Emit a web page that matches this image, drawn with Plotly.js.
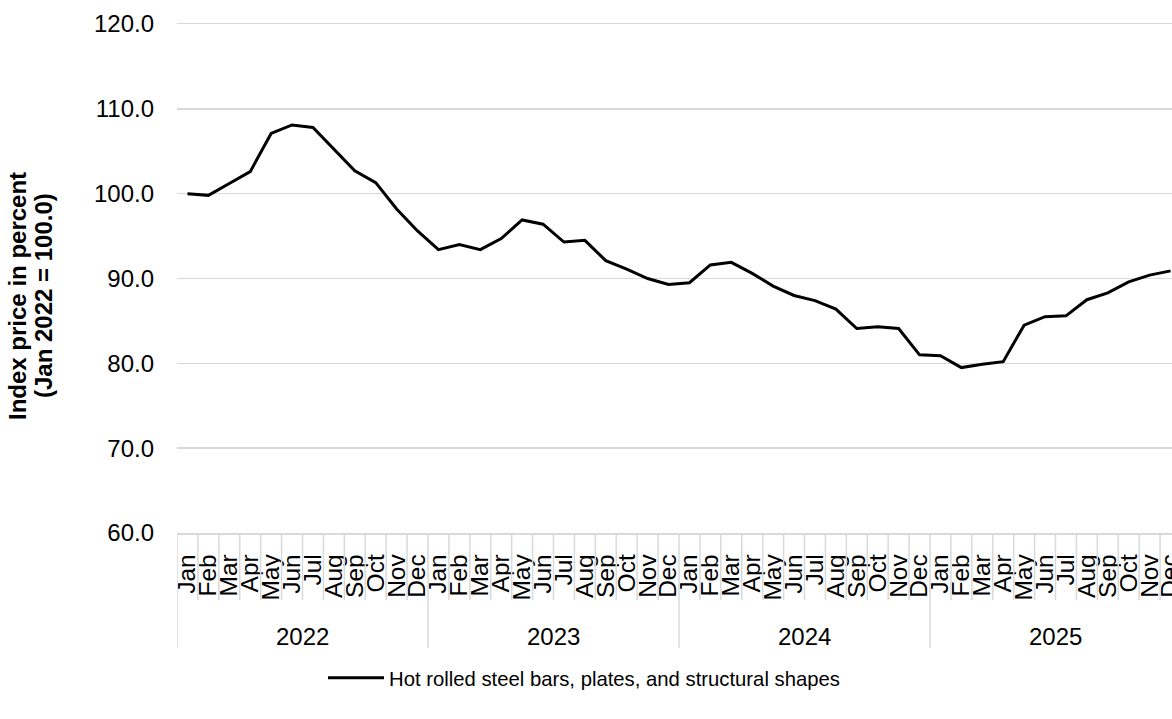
<!DOCTYPE html>
<html>
<head>
<meta charset="utf-8">
<script src="https://cdn.plot.ly/plotly-3.0.1.min.js"></script>
<style>
  html, body { margin: 0; padding: 0; overflow: hidden; background: #fff; }
  #chart { width: 1182px; height: 719px; }
</style>
</head>
<body>
<div id="chart"></div>
<script>
// Monthly index of hot rolled steel prices, Jan 2022 = 100.0
const years = ["2022", "2023", "2024", "2025"];
const months = ["Jan", "Feb", "Mar", "Apr", "May", "Jun", "Jul", "Aug", "Sep", "Oct", "Nov", "Dec"];

const index2022 = [100.0, 99.8, 101.2, 102.6, 107.1, 108.1, 107.8, 105.3, 102.7, 101.3, 98.2, 95.6];
const index2023 = [93.4, 94.0, 93.4, 94.7, 96.9, 96.4, 94.3, 94.5, 92.1, 91.1, 90.0, 89.3];
const index2024 = [89.5, 91.6, 91.9, 90.6, 89.1, 88.0, 87.4, 86.4, 84.1, 84.3, 84.1, 81.0];
const index2025 = [80.9, 79.5, 79.9, 80.2, 84.5, 85.5, 85.6, 87.5, 88.3, 89.6, 90.4, 90.9];

const seriesName = "Hot rolled steel bars, plates, and structural shapes";
const yTitleLines = ["Index price in percent", "(Jan 2022 = 100.0)"];

const yearlyValues = [index2022, index2023, index2024, index2025];

// one category per month, labelled with the month name only
const cats = [];
const vals = [];
const monthText = [];
years.forEach((yr, yi) => {
  months.forEach((m, mi) => {
    cats.push(m + " " + yr);
    monthText.push(m);
    vals.push(yearlyValues[yi][mi]);
  });
});

const FONT = "Liberation Sans, Arial, Helvetica, sans-serif";
const GRID = "#d9d9d9";

// plot area geometry in pixels (used for the separators and labels under the axis)
const plotTop = 24, plotBottom = 533, plotHeight = plotBottom - plotTop;
const plotLeft = 177, plotWidth = 1004;
const pyPaper = (px) => (plotBottom - px) / plotHeight;
const pxPaper = (px) => (px - plotLeft) / plotWidth;

const shapes = [];
// month separators through the month label row, year separators through both rows
for (let i = 0; i <= cats.length; i++) {
  const yearEdge = i % months.length === 0;
  shapes.push({
    type: "line", xref: "x", yref: "paper",
    x0: i - 0.5, x1: i - 0.5,
    y0: 0, y1: pyPaper(yearEdge ? 648 : 600),
    line: { color: GRID, width: 1.5 }
  });
}

const annotations = years.map((yr, yi) => ({
  xref: "x", yref: "paper",
  x: yi * months.length + (months.length - 1) / 2,
  y: pyPaper(636),
  text: yr, showarrow: false,
  xanchor: "center", yanchor: "middle",
  font: { family: FONT, size: 24, color: "#000" }
}));

// vertical axis title, two centred lines
const titleX = [17, 43];
yTitleLines.forEach((line, li) => {
  annotations.push({
    xref: "paper", yref: "paper",
    x: pxPaper(titleX[li]), y: pyPaper(296),
    text: line, showarrow: false, textangle: -90,
    xanchor: "center", yanchor: "middle",
    font: { family: FONT, size: 24, color: "#000", weight: "bold" }
  });
});

const trace = {
  type: "scatter", mode: "lines",
  x: cats, y: vals,
  name: seriesName,
  line: { color: "#000", width: 3, shape: "linear" },
  hoverinfo: "x+y"
};

const layout = {
  width: 1182, height: 719,
  margin: { l: plotLeft, r: 1182 - plotLeft - plotWidth, t: plotTop, b: 719 - plotBottom },
  paper_bgcolor: "#fff", plot_bgcolor: "#fff",
  font: { family: FONT, color: "#000" },
  showlegend: true,
  legend: {
    orientation: "h",
    x: pxPaper(323), xanchor: "left",
    y: pyPaper(678), yanchor: "middle",
    font: { family: FONT, size: 20.3, color: "#000" },
    itemwidth: 56
  },
  xaxis: {
    type: "category",
    range: [-0.5, cats.length - 0.5],
    tickvals: cats, ticktext: monthText,
    tickangle: -90,
    ticks: "",
    ticklabelstandoff: 10,
    tickfont: { family: FONT, size: 24.5, color: "#000" },
    showgrid: false, zeroline: false,
    showline: true, mirror: true, linecolor: GRID, linewidth: 1.5,
    fixedrange: true
  },
  yaxis: {
    range: [60, 120],
    dtick: 10, tick0: 60,
    tickformat: ".1f",
    ticks: "",
    ticklabelstandoff: 22,
    tickfont: { family: FONT, size: 24, color: "#000" },
    showgrid: true, gridcolor: GRID, gridwidth: 1.5,
    zeroline: false, showline: false,
    fixedrange: true
  },
  shapes: shapes,
  annotations: annotations
};

Plotly.newPlot("chart", [trace], layout, { displayModeBar: false, staticPlot: true });
</script>
</body>
</html>
